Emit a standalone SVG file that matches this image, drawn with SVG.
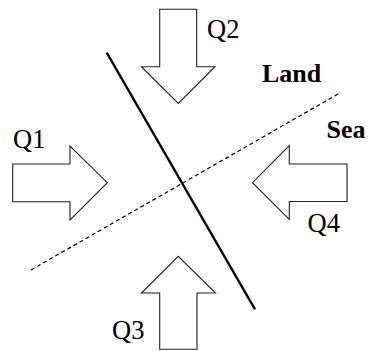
<svg xmlns="http://www.w3.org/2000/svg" width="370" height="351" viewBox="0 0 370 351">
  <style>
    .flow { fill: #ffffff; stroke: #222222; stroke-width: 1.1; stroke-linejoin: miter; }
    .label { font-family: "Liberation Serif", "Times New Roman", serif; font-size: 26.5px; fill: #000000; }
    .region { font-family: "Liberation Serif", "Times New Roman", serif; font-size: 26px; font-weight: bold; fill: #000000; }
    .coast { stroke: #000000; stroke-width: 2.3; fill: none; stroke-linecap: butt; }
    .boundary { stroke: #000000; stroke-width: 1.2; fill: none; stroke-dasharray: 4 3; }
  </style>
  <rect width="370" height="351" fill="#ffffff"/>

  <!-- lines -->
  <g id="connectors">
    <line class="boundary" x1="31" y1="270" x2="339.3" y2="93.3"/>
    <line class="coast" x1="106.7" y1="52.7" x2="255" y2="309.3"/>
  </g>

  <!-- Q1: arrow pointing right -->
  <g id="q1">
    <path class="flow" d="M12.7,164 H70 V146 L107.3,182.7 L70,220 V201.7 H12.7 Z"/>
    <text class="label" x="13" y="147.5">Q1</text>
  </g>

  <!-- Q2: arrow pointing down -->
  <g id="q2">
    <path class="flow" d="M159.7,9.3 H196.7 V66.7 H215 L178.3,103.5 L141.5,66.7 H159.7 Z"/>
    <text class="label" x="207" y="38">Q2</text>
  </g>

  <!-- Q3: arrow pointing up -->
  <g id="q3">
    <path class="flow" d="M159.7,349.3 V293 H141.5 L178.3,256.3 L215.5,293 H197 V349.3 Z"/>
    <text class="label" x="112" y="338.5">Q3</text>
  </g>

  <!-- Q4: arrow pointing left -->
  <g id="q4">
    <path class="flow" d="M347,164 H289.3 V145.5 L252.5,182.7 L289.3,219.5 V201.5 H347 Z"/>
    <text class="label" x="307.5" y="231.5">Q4</text>
  </g>

  <!-- region names -->
  <g id="land">
    <text class="region" x="262" y="82">Land</text>
  </g>
  <g id="sea">
    <text class="region" x="326.5" y="137.5">Sea</text>
  </g>
</svg>
